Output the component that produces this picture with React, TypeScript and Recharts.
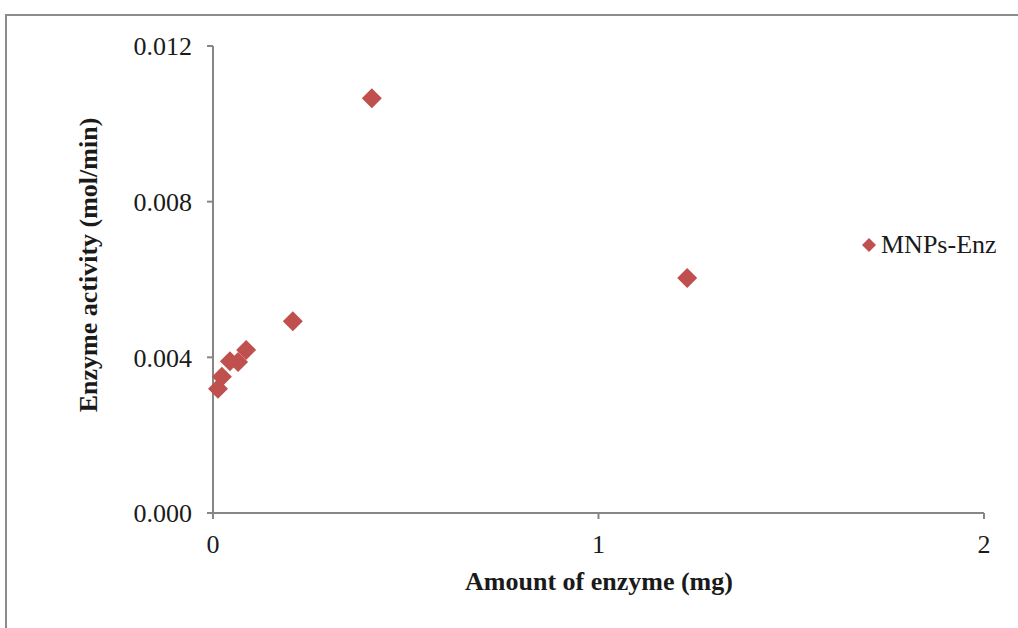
import React from "react";
import { ScatterChart, Scatter, XAxis, YAxis } from "recharts";

const seriesName = "MNPs-Enz";
const amounts = [0.013, 0.023, 0.044, 0.065, 0.086, 0.207, 0.412, 1.23];
const activities = [0.00319, 0.0035, 0.0039, 0.00388, 0.00419, 0.00493, 0.01066, 0.00604];
const xTicks = [0, 1, 2];
const yTicks = [0, 0.004, 0.008, 0.012];
const xTitle = "Amount of enzyme (mg)";
const yTitle = "Enzyme activity (mol/min)";

const data = amounts.map((x, i) => ({ x, y: activities[i] }));

const RED = "#C0504D";
const AXIS = "#868686";
const FONT = "'Liberation Serif', 'Times New Roman', serif";

const Diamond = (props: any) => {
  const { cx, cy } = props;
  const r = 10;
  return (
    <path
      d={`M${cx},${cy - r} L${cx + r},${cy} L${cx},${cy + r} L${cx - r},${cy} Z`}
      fill={RED}
    />
  );
};

export default function App() {
  return (
    <div style={{ position: "absolute", left: 0, top: 0, width: 1018, height: 628, overflow: "hidden", background: "#fff" }}>
      <div
        style={{
          position: "absolute",
          left: 5,
          top: 14,
          width: 1100,
          height: 700,
          border: "2px solid #8c8c8c",
          boxSizing: "border-box",
        }}
      />
      <ScatterChart
        width={1018}
        height={628}
        margin={{ top: 46, right: 34, bottom: 0, left: 0 }}
        style={{ position: "absolute", left: 0, top: 0 }}
      >
        <XAxis
          type="number"
          dataKey="x"
          domain={[0, 2]}
          ticks={xTicks}
          height={115}
          stroke={AXIS}
          strokeWidth={2}
          tickSize={6}
          tickMargin={16}
          tick={{ fill: "#1a1a1a", fontSize: 26, fontFamily: FONT }}
          tickLine={{ stroke: AXIS, strokeWidth: 2 }}
          label={(p: any) => (
            <text
              x={599}
              y={590}
              textAnchor="middle"
              fontFamily={FONT}
              fontSize={26}
              fontWeight="bold"
              fill="#1a1a1a"
            >
              {xTitle}
            </text>
          )}
        />
        <YAxis
          type="number"
          dataKey="y"
          domain={[0, 0.012]}
          ticks={yTicks}
          width={213}
          stroke={AXIS}
          strokeWidth={2}
          tickSize={6}
          tickMargin={15}
          tickFormatter={(v: number) => v.toFixed(3)}
          tick={{ fill: "#1a1a1a", fontSize: 26, fontFamily: FONT }}
          tickLine={{ stroke: AXIS, strokeWidth: 2 }}
          label={(p: any) => (
            <text
              x={97}
              y={265}
              transform="rotate(-90, 97, 265)"
              textAnchor="middle"
              fontFamily={FONT}
              fontSize={26}
              fontWeight="bold"
              fill="#1a1a1a"
            >
              {yTitle}
            </text>
          )}
        />
        <Scatter name={seriesName} data={data} shape={<Diamond />} isAnimationActive={false} />
      </ScatterChart>
      <div
        style={{
          position: "absolute",
          left: 861,
          top: 230,
          display: "flex",
          alignItems: "center",
          fontFamily: FONT,
          fontSize: 26,
          color: "#1a1a1a",
          lineHeight: "30px",
        }}
      >
        <svg width={16} height={16} style={{ marginRight: 4 }}>
          <path d="M8,1 L15,8 L8,15 L1,8 Z" fill={RED} />
        </svg>
        <span>{seriesName}</span>
      </div>
    </div>
  );
}
